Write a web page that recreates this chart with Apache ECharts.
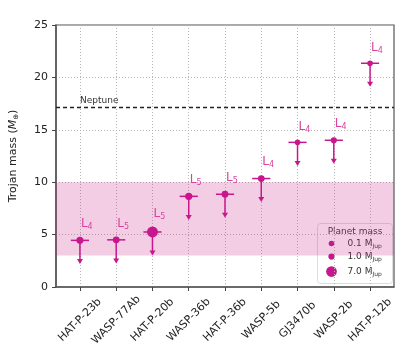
<!DOCTYPE html>
<html>
<head>
<meta charset="utf-8">
<script src="https://cdn.jsdelivr.net/npm/echarts@6/dist/echarts.min.js"></script>
<style>
html,body{margin:0;padding:0;background:#fff;}
#main{width:415px;height:360px;}
</style>
</head>
<body>
<div id="main"></div>
<script>
var planets = ['HAT-P-23b','WASP-77Ab','HAT-P-20b','WASP-36b','HAT-P-36b','WASP-5b','GJ3470b','WASP-2b','HAT-P-12b'];
var trojanMass = [4.45, 4.5, 5.25, 8.65, 8.85, 10.35, 13.8, 14.0, 21.35];
var lagrange = ['4','5','5','5','5','4','4','4','4'];
var planetMass = [2.09, 1.76, 7.25, 2.36, 1.83, 1.64, 0.04, 0.88, 0.21];
var legendMass = [0.1, 1.0, 7.0];
var yTicks = [0, 5, 10, 15, 20, 25];
var band = [3, 10];
var neptune = 17.15;
var yErr = 2.2, xErr = 0.25;

var pink = '#c8168c';
var font = 'DejaVu Sans';

function dotSize(m){ return 5.5 + 0.75 * m; }

var pts = planets.map(function(p, i){
	return [i, trojanMass[i], planetMass[i], lagrange[i]];
});
var idx = planets.map(function(p, i){ return i; });

var myChart = echarts.init(document.getElementById('main'));

//误差棒 + 箭头
function renderBar(params, api){
	var x = api.value(0), y = api.value(1);
	var p = api.coord([x, y]);
	var pl = api.coord([x - xErr, y]);
	var pr = api.coord([x + xErr, y]);
	var pb = api.coord([x, y - yErr]);
	return {
		type: 'group',
		children: [
			{type:'line', shape:{x1:pl[0], y1:p[1], x2:pr[0], y2:p[1]}, style:{stroke:pink, lineWidth:1.5}},
			{type:'line', shape:{x1:p[0], y1:p[1], x2:p[0], y2:pb[1]-2}, style:{stroke:pink, lineWidth:1.5}},
			{type:'polygon', shape:{points:[[pb[0]-3, pb[1]-4.5],[pb[0]+3, pb[1]-4.5],[pb[0], pb[1]+0.5]]}, style:{fill:pink}}
		]
	};
}

//图例
var legendX = 317, legendY = 223;
var legendChildren = [
	{type:'rect', shape:{x:0, y:0, width:75, height:60, r:3}, style:{fill:'rgba(255,255,255,0.85)', stroke:'#dddddd', lineWidth:1}},
	{type:'text', x:37.5, y:4, style:{text:'Planet mass', font:'9px ' + font, fill:'#333', align:'center', verticalAlign:'top'}}
];
var rowY = [20, 33, 48];
legendMass.forEach(function(m, i){
	legendChildren.push({type:'circle', shape:{cx:14, cy:rowY[i], r:dotSize(m)/2}, style:{fill:pink}});
	legendChildren.push({type:'text', x:30, y:rowY[i], style:{
		text:'{t|' + m.toFixed(1) + ' M}{s|Jup}', verticalAlign:'middle', fill:'#333',
		rich:{t:{fontSize:9, fontFamily:font, fill:'#333'}, s:{fontSize:6, fontFamily:font, fill:'#333', padding:[5,0,0,0]}}
	}});
});

var option = {
	animation: false,
	grid: {left:54, right:21, top:25, bottom:73, show:true, borderColor:'#555', borderWidth:1.2, backgroundColor:'transparent'},
	xAxis: {
		type: 'value', min: -0.66, max: 8.66,
		axisLine: {show:true, onZero:false, lineStyle:{color:'#555', width:1.5}},
		axisTick: {show:true, customValues: idx, length:4, lineStyle:{color:'#444'}},
		axisLabel: {
			customValues: idx, rotate: 45, align: 'center', verticalAlign: 'middle',
			fontSize: 11, fontFamily: font, color: '#222', margin: 33,
			formatter: function(v){ return planets[Math.round(v)]; }
		},
		splitLine: {show:true, lineStyle:{color:'#b5b5b5', type:[1,2], width:1}}
	},
	yAxis: {
		type: 'value', min: yTicks[0], max: yTicks[yTicks.length-1], interval: 5,
		axisLine: {show:true, onZero:false, lineStyle:{color:'#555', width:1.5}},
		axisTick: {show:true, length:4, lineStyle:{color:'#444'}},
		axisLabel: {fontSize: 11, fontFamily: font, color: '#222', margin: 8},
		splitLine: {show:true, lineStyle:{color:'#b5b5b5', type:[1,2], width:1}},
		name: '{a|Trojan mass (}{i|M}{s|⊕}{a|)}',
		nameLocation: 'middle', nameGap: 36,
		nameTextStyle: {
			rich: {
				a: {fontSize:11, fontFamily:font, color:'#222'},
				i: {fontSize:11, fontFamily:font, fontStyle:'italic', color:'#222'},
				s: {fontSize:7, fontFamily:font, color:'#222', padding:[6,0,0,0]}
			}
		}
	},
	series: [
		{
			type: 'custom', renderItem: renderBar, data: pts, z: 3,
			encode: {x:0, y:1},
			markArea: {
				silent: true,
				itemStyle: {color:'rgba(200,40,140,0.23)'},
				data: [[{yAxis: band[0]}, {yAxis: band[1]}]]
			},
			markLine: {
				silent: true, symbol: 'none',
				lineStyle: {color:'#222', type:[4,3], width:1.3},
				label: {show:true, formatter:'Neptune', position:'insideStartTop', distance:[24, 2], fontSize:9, fontFamily:font, color:'#333'},
				data: [{yAxis: neptune}]
			}
		},
		{
			type: 'scatter', data: pts, z: 4,
			encode: {x:0, y:1},
			symbolSize: function(v){ return dotSize(v[2]); },
			itemStyle: {color: pink, opacity: 1},
			label: {
				show: true, position: 'top', align: 'left', offset: [1, -1],
				formatter: function(p){ return '{l|L}{s|' + p.value[3] + '}'; },
				rich: {
					l: {fontSize:12, fontFamily:font, color:'#d9439f'},
					s: {fontSize:8, fontFamily:font, color:'#d9439f', padding:[6,0,0,0]}
				}
			}
		}
	],
	graphic: [{type:'group', left:legendX, top:legendY, children:legendChildren}]
};
myChart.setOption(option);
</script>
</body>
</html>
